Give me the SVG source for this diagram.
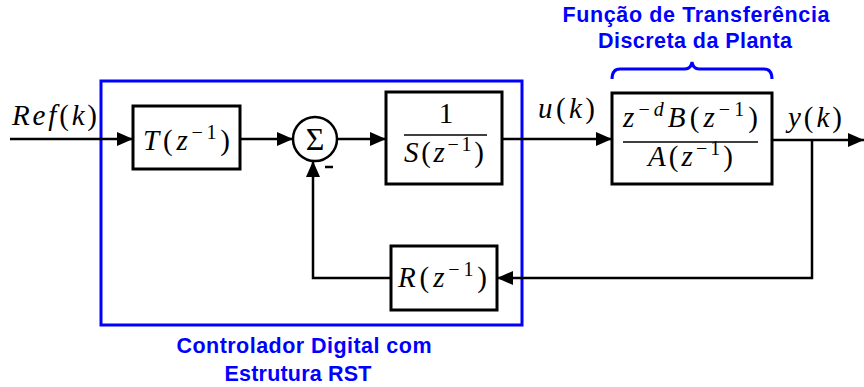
<svg xmlns="http://www.w3.org/2000/svg" width="864" height="387" viewBox="0 0 864 387">
<style>
.box{fill:#fff;stroke:#000;stroke-width:3}
.ln{fill:none;stroke:#000;stroke-width:2.5}
.blue{fill:none;stroke:#0000ff;stroke-width:3}
.lbl{font-family:"Liberation Sans",Arial,sans-serif;font-weight:bold;font-size:21.5px;fill:#0000ff;text-anchor:middle}
.m{font-family:"Liberation Serif","Times New Roman",serif;font-style:italic;font-size:29px;fill:#000}
.u{font-style:normal}
.sup{font-size:20px}
</style>
<defs>
<marker id="ah" markerWidth="16" markerHeight="14" refX="16" refY="7" orient="auto" markerUnits="userSpaceOnUse">
<path d="M0,0 L16,7 L0,14 Z" fill="#000"/>
</marker>
</defs>
<rect x="101" y="81" width="421" height="244" class="blue"/>
<path class="blue" d="M612,79 Q612,69 620,69 L685,69 Q691,69 692,62 Q693,69 699,69 L764,69 Q772,69 772,79"/>
<text class="lbl" x="696" y="22" textLength="267" lengthAdjust="spacing">Função de Transferência</text>
<text class="lbl" x="695" y="48" textLength="194" lengthAdjust="spacing">Discreta da Planta</text>
<text class="lbl" x="304" y="353" textLength="255" lengthAdjust="spacing">Controlador Digital com</text>
<text class="lbl" x="298" y="381" textLength="147" lengthAdjust="spacing">Estrutura RST</text>
<g id="connectors">
<line class="ln" x1="10" y1="139" x2="133" y2="139" marker-end="url(#ah)"/>
<line class="ln" x1="240" y1="139" x2="293" y2="139" marker-end="url(#ah)"/>
<line class="ln" x1="337" y1="139" x2="386" y2="139" marker-end="url(#ah)"/>
<line class="ln" x1="502" y1="139" x2="612" y2="139" marker-end="url(#ah)"/>
<line class="ln" x1="772" y1="140" x2="864" y2="140" marker-end="url(#ah)"/>
<polyline class="ln" points="812,140 812,278 497,278" marker-end="url(#ah)"/>
<polyline class="ln" points="391,278 313,278 313,161" marker-end="url(#ah)"/>
<line x1="325" y1="167" x2="333" y2="167" stroke="#000" stroke-width="2.5"/>
</g>
<text class="m" x="12" y="125" textLength="85" lengthAdjust="spacing">Ref<tspan class="u">(</tspan>k<tspan class="u">)</tspan></text>
<text class="m" x="538" y="118" textLength="57" lengthAdjust="spacing">u<tspan class="u">(</tspan>k<tspan class="u">)</tspan></text>
<text class="m" x="788" y="127" textLength="54" lengthAdjust="spacing">y<tspan class="u">(</tspan>k<tspan class="u">)</tspan></text>
<g id="T">
<rect class="box" x="133" y="106" width="107" height="63"/>
<text class="m" x="143" y="150" textLength="87" lengthAdjust="spacing">T<tspan class="u">(</tspan>z<tspan class="u sup" dy="-11">−1</tspan><tspan class="u" dy="11">)</tspan></text>
</g>
<g id="sum">
<circle cx="315" cy="139" r="22" fill="#fff" stroke="#000" stroke-width="2.5"/>
<text x="315" y="150" font-family="Liberation Serif,serif" font-size="32" text-anchor="middle">Σ</text>
</g>
<g id="S">
<rect class="box" x="386" y="92" width="116" height="92"/>
<text class="m u" x="446" y="123" text-anchor="middle">1</text>
<line x1="404" y1="135" x2="487" y2="135" stroke="#000" stroke-width="1.5"/>
<text class="m" x="404" y="162" textLength="80" lengthAdjust="spacing">S<tspan class="u">(</tspan>z<tspan class="u sup" dy="-11">−1</tspan><tspan class="u" dy="11">)</tspan></text>
</g>
<g id="plant">
<rect class="box" x="612" y="93" width="160" height="91"/>
<text class="m" x="623" y="127" textLength="135" lengthAdjust="spacing">z<tspan class="u sup" dy="-11">−</tspan><tspan class="sup">d</tspan><tspan dy="11">B</tspan><tspan class="u">(</tspan>z<tspan class="u sup" dy="-11">−1</tspan><tspan class="u" dy="11">)</tspan></text>
<line x1="623" y1="142" x2="758" y2="142" stroke="#000" stroke-width="1.5"/>
<text class="m" x="648" y="166" textLength="85" lengthAdjust="spacing">A<tspan class="u">(</tspan>z<tspan class="u sup" dy="-11">−1</tspan><tspan class="u" dy="11">)</tspan></text>
</g>
<g id="R">
<rect class="box" x="391" y="246" width="106" height="64"/>
<text class="m" x="398" y="287" textLength="89" lengthAdjust="spacing">R<tspan class="u">(</tspan>z<tspan class="u sup" dy="-11">−1</tspan><tspan class="u" dy="11">)</tspan></text>
</g>
</svg>
